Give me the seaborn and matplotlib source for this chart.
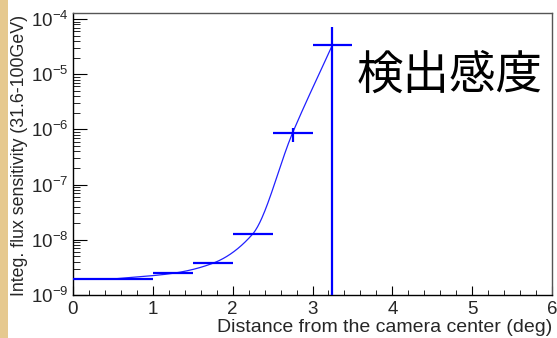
import numpy as np
import pandas as pd
import matplotlib
matplotlib.use("Agg")
import matplotlib.pyplot as plt
import seaborn as sns
from matplotlib.ticker import FixedLocator, LogLocator, NullFormatter, MultipleLocator
from matplotlib.patches import Rectangle

# ---- data ----
x_center = [0.5, 1.25, 1.75, 2.25, 2.75, 3.25]
x_halfwidth = [0.5, 0.25, 0.25, 0.25, 0.25, 0.25]
sensitivity = [1.95e-9, 2.47e-9, 3.75e-9, 1.27e-8, 8.6e-7, 3.4e-5]
err_low = [0.05e-9, 0.05e-9, 0.1e-9, 0.3e-9, 2.6e-7, 3.4e-5 - 1e-10]
err_high = [0.05e-9, 0.05e-9, 0.1e-9, 0.3e-9, 2.0e-7, 3.8e-5]
y_tick_vals = [1e-9, 1e-8, 1e-7, 1e-6, 1e-5, 1e-4]
y_tick_labels = ["10$^{-9}$", "10$^{-8}$", "10$^{-7}$", "10$^{-6}$", "10$^{-5}$", "10$^{-4}$"]
x_tick_vals = [0, 1, 2, 3, 4, 5, 6]
x_tick_labels = ["0", "1", "2", "3", "4", "5", "6"]
x_label = "Distance from the camera center (deg)"
y_label = "Integ. flux sensitivity (31.6-100GeV)"
title_text = "検出感度"

df = pd.DataFrame({"x": x_center, "y": sensitivity})

# smooth drawing of the connecting curve (monotone cubic in log space)
def pchip(xs, ys, xq):
    xs = np.asarray(xs, float); ys = np.asarray(ys, float)
    h = np.diff(xs); d = np.diff(ys) / h
    m = np.zeros_like(ys)
    for k in range(1, len(xs) - 1):
        if d[k - 1] * d[k] > 0:
            w1 = 2 * h[k] + h[k - 1]; w2 = h[k] + 2 * h[k - 1]
            m[k] = (w1 + w2) / (w1 / d[k - 1] + w2 / d[k])
    m[0] = d[0]; m[-1] = d[-1]
    out = np.empty_like(xq)
    for i, xv in enumerate(xq):
        k = min(np.searchsorted(xs, xv) - 1, len(xs) - 2); k = max(k, 0)
        t = (xv - xs[k]) / h[k]
        h00 = 2*t**3 - 3*t**2 + 1; h10 = t**3 - 2*t**2 + t
        h01 = -2*t**3 + 3*t**2; h11 = t**3 - t**2
        out[i] = h00*ys[k] + h10*h[k]*m[k] + h01*ys[k+1] + h11*h[k]*m[k+1]
    return out

xq = np.linspace(x_center[0], x_center[-1], 300)
yq = 10 ** pchip(x_center, np.log10(sensitivity), xq)
curve = pd.DataFrame({"x": xq, "y": yq})

# ---- figure ----
sns.set_theme(style="white")
plt.rcParams["font.family"] = ["Liberation Sans", "DejaVu Sans"]
plt.rcParams["mathtext.fontset"] = "custom"
plt.rcParams["mathtext.rm"] = "Liberation Sans"
plt.rcParams["mathtext.it"] = "Liberation Sans:italic"
plt.rcParams["mathtext.sf"] = "Liberation Sans"

fig = plt.figure(figsize=(5.57, 3.38), dpi=100)
fig.patch.set_facecolor("white")
fig.patches.append(Rectangle((0, 0), 8 / 557, 1, transform=fig.transFigure,
                             facecolor="#E6C98F", edgecolor="none", zorder=0))
ax = fig.add_axes([73 / 557, 1 - 295 / 338, (552 - 73) / 557, (295 - 13) / 338])
ax.set_facecolor("white")

sns.lineplot(data=curve, x="x", y="y", ax=ax, color="#2020ff", linewidth=0.9,
             estimator=None, sort=False)
ax.errorbar(df["x"], df["y"], xerr=x_halfwidth, yerr=[err_low, err_high],
            fmt="none", ecolor="#0000ff", elinewidth=1.6, capsize=0, zorder=3)

ax.set_yscale("log")
ax.set_xlim(0, 6)
ax.set_ylim(1e-9, 1.285e-4)

ax.yaxis.set_major_locator(FixedLocator(y_tick_vals))
ax.set_yticklabels(y_tick_labels)
ax.yaxis.set_minor_locator(LogLocator(base=10, subs=np.arange(2, 10), numticks=20))
ax.yaxis.set_minor_formatter(NullFormatter())
ax.xaxis.set_major_locator(FixedLocator(x_tick_vals))
ax.set_xticklabels(x_tick_labels)
ax.xaxis.set_minor_locator(MultipleLocator(0.2))

ax.tick_params(axis="y", which="major", direction="in", length=10, width=0.8,
               labelsize=13.5, pad=3, color="black", left=True, right=False)
ax.tick_params(axis="y", which="minor", direction="in", length=5, width=0.6,
               color="black", left=True, right=False)
ax.tick_params(axis="x", which="major", direction="in", length=6.5, width=0.8,
               labelsize=13.5, pad=4, color="black", bottom=True, top=False)
ax.tick_params(axis="x", which="minor", direction="in", length=3.3, width=0.6,
               color="black", bottom=True, top=False)

for side in ["left", "bottom"]:
    ax.spines[side].set_color("black")
    ax.spines[side].set_linewidth(1.0)
for side in ["top", "right"]:
    ax.spines[side].set_color("#555555")
    ax.spines[side].set_linewidth(1.0)
    ax.spines[side].set_visible(True)

ax.set_xlabel("")
ax.set_ylabel("")
fig.text(552 / 557, 1 - 327 / 338, x_label, ha="right", va="center", fontsize=14)
fig.text(20 / 557, 1 - 155 / 338, y_label, ha="center", va="center",
         rotation=90, fontsize=12.8)
ax.text(450 / 557, 1 - 75 / 338, title_text, transform=fig.transFigure,
        ha="center", va="center", fontsize=33.5, color="black",
        family=["Noto Sans CJK JP", "DejaVu Sans"])

fig.savefig("out.png", dpi=100, facecolor=fig.get_facecolor())
